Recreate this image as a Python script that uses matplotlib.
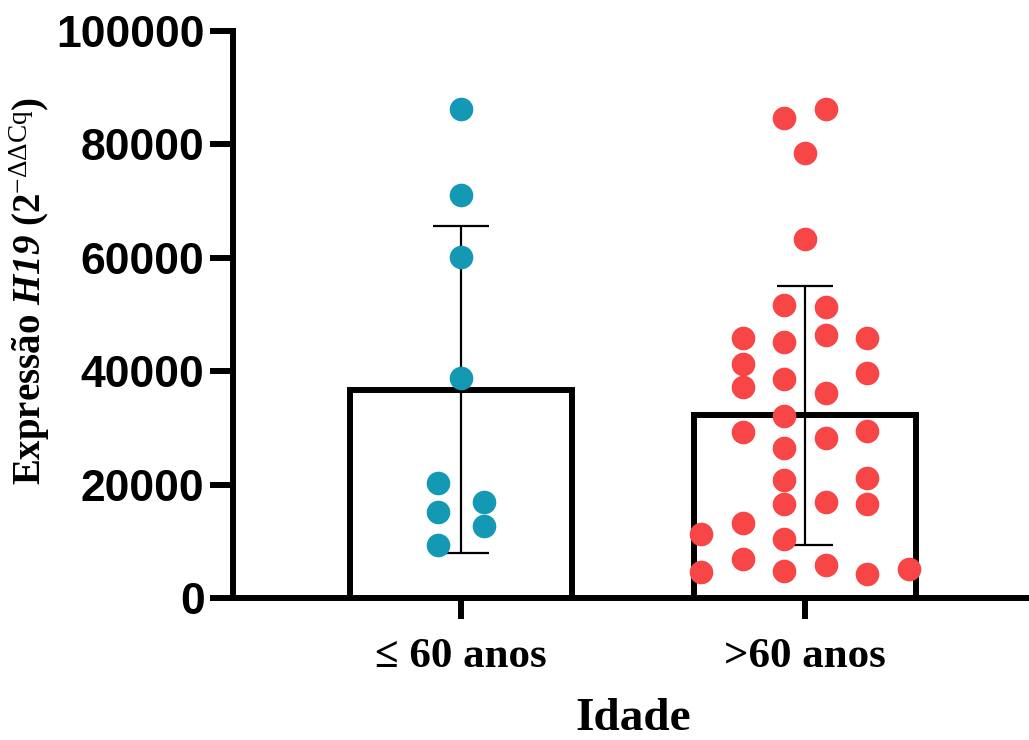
import numpy as np
import matplotlib
matplotlib.use("Agg")
import matplotlib.pyplot as plt

# H19 expression (2^-ΔΔCq) per patient, grouped by age
groups = ["≤ 60 anos", ">60 anos"]
young = [86300, 71000, 60200, 38800, 20300, 15200, 9300, 17000, 12700]
old = [86300, 84600, 78400, 63300, 51700, 51400, 45900, 45200, 46300, 45800,
       41200, 39600, 37200, 38700, 36200, 32100, 29200, 28200, 29500, 26400,
       20800, 21200, 16500, 16900, 16500, 11300, 13200, 10400, 4600, 6800,
       4800, 5900, 4300, 5100]
# horizontal slot of each dot inside its column scatter
young_slots = [0, 0, 0, 0, -1.1, -1.1, -1.1, 1.1, 1.1]
old_slots = [1, -1, 0, 0, -1, 1, -3, -1, 1, 3,
             -3, 3, -3, -1, 1, -1, -3, 1, 3, -1,
             -1, 3, -1, 1, 3, -5, -3, -1, -5, -3,
             -1, 1, 3, 5]
yticks = [0, 20000, 40000, 60000, 80000, 100000]

colors = ["#1499B5", "#F84545"]

# math fonts: rm -> bold italic (gene name), sf -> regular (exponent)
plt.rcParams["mathtext.fontset"] = "custom"
plt.rcParams["mathtext.rm"] = "Liberation Serif:italic:bold"
plt.rcParams["mathtext.it"] = "Liberation Serif:italic:bold"
plt.rcParams["mathtext.bf"] = "Liberation Serif:bold"
plt.rcParams["mathtext.sf"] = "Liberation Serif"

W, H = 1029, 740
fig = plt.figure(figsize=(W / 100, H / 100), dpi=100)
ax = fig.add_axes([233 / W, 142 / H, (W - 233) / W, 567 / H])

data = [np.array(young, float), np.array(old, float)]
slots = [young_slots, old_slots]
x = np.arange(len(groups))
means = [d.mean() for d in data]
sds = [d.std(ddof=1) for d in data]

ax.bar(x, means, width=0.645, facecolor="white", edgecolor="black",
       linewidth=4.3, zorder=2)
ax.errorbar(x, means, yerr=sds, fmt="none", ecolor="black", elinewidth=1.6,
            capsize=20.5, capthick=1.6, zorder=3)

step = 0.0605
for i, (d, s) in enumerate(zip(data, slots)):
    ax.plot(x[i] + np.array(s) * step, d, "o", ms=17, mew=0,
            color=colors[i], zorder=4, clip_on=False)

ax.set_xlim(-0.663, 1.651)
ax.set_ylim(0, 100000)
ax.set_yticks(yticks)
ax.set_yticklabels([str(v) for v in yticks], fontfamily="Liberation Sans",
                   fontweight="bold", fontsize=32)
ax.set_xticks(x)
ax.set_xticklabels(groups, fontfamily="Liberation Serif", fontweight="bold",
                   fontsize=31)

for side in ["top", "right"]:
    ax.spines[side].set_visible(False)
for side in ["left", "bottom"]:
    ax.spines[side].set_linewidth(4.3)
ax.tick_params(axis="y", length=16.5, width=4.3, pad=4)
ax.tick_params(axis="x", length=15, width=4.3, pad=14)

fig.text(30 / W, 1 - 291 / H,
         "Expressão $\\mathrm{H19}$ (2$^{\\mathsf{-ΔΔCq}}$)",
         rotation=90, ha="center", va="center",
         fontfamily="Liberation Serif", fontweight="bold", fontsize=28)
fig.text(633 / W, 1 - 719 / H, "Idade", ha="center", va="center",
         fontfamily="Liberation Serif", fontweight="bold", fontsize=34)

fig.savefig("out.png", dpi=100)
